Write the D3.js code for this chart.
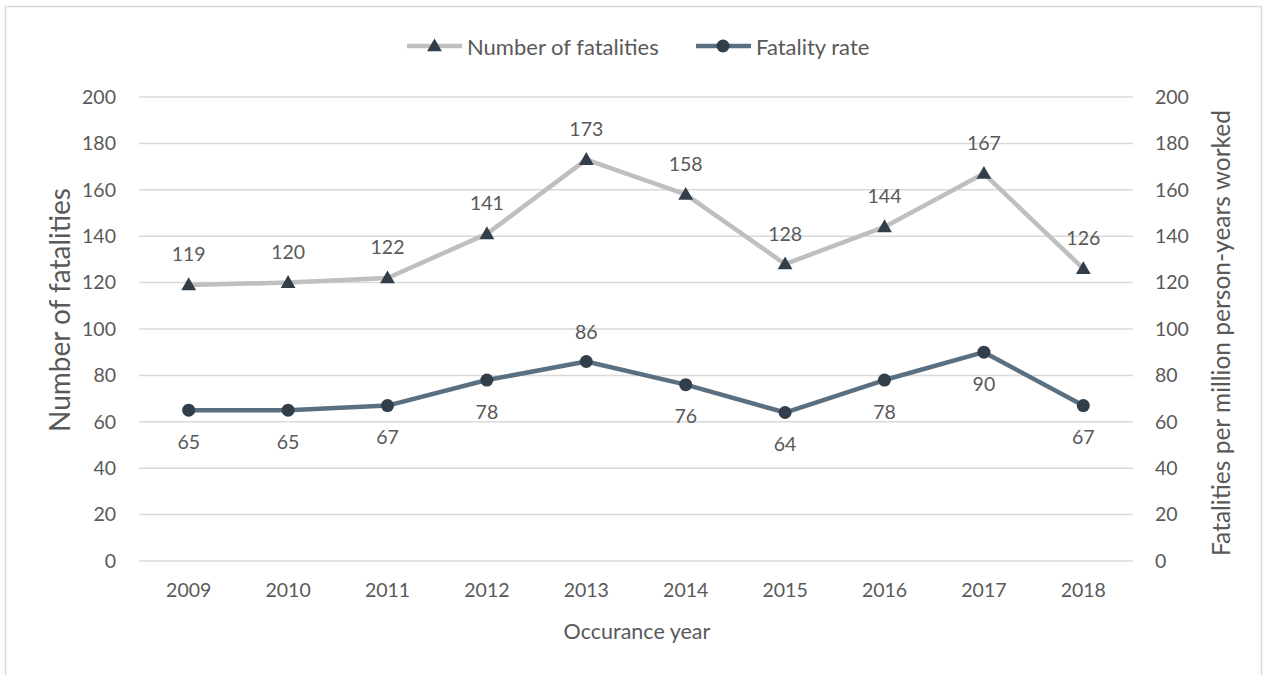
<!DOCTYPE html>
<html>
<head>
<meta charset="utf-8">
<script src="https://cdn.jsdelivr.net/npm/d3@7"></script>
<style>
  html, body { margin: 0; padding: 0; background: #ffffff; }
  svg { display: block; }
  text { font-family: Lato, "Open Sans", sans-serif; fill: #595959; }
</style>
</head>
<body>
<svg id="chart" width="1265" height="675"></svg>
<script>
// Occurrence years
const years = ["2009", "2010", "2011", "2012", "2013", "2014", "2015", "2016", "2017", "2018"];
// Number of fatalities per year
const fatalities = [119, 120, 122, 141, 173, 158, 128, 144, 167, 126];
// Fatalities per million person-years worked
const fatalityRate = [65, 65, 67, 78, 86, 76, 64, 78, 90, 67];
// Where each rate label sits relative to its point
const rateLabelPos = ["below", "below", "below", "below", "above", "below", "below", "below", "below", "below"];
// Shared tick values for both vertical axes
const yTicks = [0, 20, 40, 60, 80, 100, 120, 140, 160, 180, 200];

const svg = d3.select("#chart");
const plot = { left: 139, right: 1133, top: 97, bottom: 561 };

// Outer chart frame
svg.append("rect")
  .attr("x", 5.5).attr("y", 6.5)
  .attr("width", 1256).attr("height", 700)
  .attr("fill", "none").attr("stroke", "#d9d9d9").attr("stroke-width", 1.5);

const x = d3.scaleBand().domain(years).range([plot.left, plot.right]);
const yLeft = d3.scaleLinear().domain([0, 200]).range([plot.bottom, plot.top]);
const yRight = d3.scaleLinear().domain([0, 200]).range([plot.bottom, plot.top]);
const cx = d => x(d) + x.bandwidth() / 2;

// Horizontal gridlines
svg.append("g")
  .selectAll("line").data(yTicks).join("line")
  .attr("x1", plot.left).attr("x2", plot.right)
  .attr("y1", d => yLeft(d)).attr("y2", d => yLeft(d))
  .attr("stroke", "#d9d9d9").attr("stroke-width", 1.5);

function styleAxis(g) {
  g.select(".domain").remove();
  g.selectAll("text").style("font-size", "19.5px").attr("fill", "#595959")
    .style("font-family", "Lato, sans-serif");
}

// Left axis
svg.append("g")
  .attr("transform", `translate(${plot.left - 23},0)`)
  .call(d3.axisLeft(yLeft).tickValues(yTicks).tickSize(0).tickPadding(0))
  .call(styleAxis);

// Right axis
svg.append("g")
  .attr("transform", `translate(${plot.right + 22},0)`)
  .call(d3.axisRight(yRight).tickValues(yTicks).tickSize(0).tickPadding(0))
  .call(styleAxis);

// Bottom axis
svg.append("g")
  .attr("transform", `translate(0,${plot.bottom + 22})`)
  .call(d3.axisBottom(x).tickSize(0).tickPadding(0))
  .call(styleAxis);

// Axis titles
svg.append("text")
  .attr("transform", `translate(59,${(plot.top + plot.bottom) / 2 - 19}) rotate(-90)`)
  .attr("text-anchor", "middle").attr("dominant-baseline", "central")
  .style("font-size", "28px")
  .text("Number of fatalities");

svg.append("text")
  .attr("transform", `translate(1220,${(plot.top + plot.bottom) / 2 + 4}) rotate(-90)`)
  .attr("text-anchor", "middle").attr("dominant-baseline", "central")
  .style("font-size", "24.5px")
  .text("Fatalities per million person-years worked");

svg.append("text")
  .attr("x", 637).attr("y", 631)
  .attr("text-anchor", "middle").attr("dominant-baseline", "central")
  .style("font-size", "21.5px")
  .text("Occurance year");

// Lines
const lineFat = d3.line().x((d, i) => cx(years[i])).y(d => yLeft(d));
const lineRate = d3.line().x((d, i) => cx(years[i])).y(d => yRight(d));

svg.append("path").datum(fatalities)
  .attr("d", lineFat).attr("fill", "none")
  .attr("stroke", "#bfbfbf").attr("stroke-width", 4.5).attr("stroke-linejoin", "round");

svg.append("path").datum(fatalityRate)
  .attr("d", lineRate).attr("fill", "none")
  .attr("stroke", "#5a6f80").attr("stroke-width", 4.5).attr("stroke-linejoin", "round");

const markerColor = "#323f4a";
const tri = d3.symbol().type(d3.symbolTriangle).size(95);

// Triangle markers for fatalities
svg.append("g").selectAll("path").data(fatalities).join("path")
  .attr("d", tri)
  .attr("transform", (d, i) => `translate(${cx(years[i])},${yLeft(d) + 1})`)
  .attr("fill", markerColor);

// Circle markers for rate
svg.append("g").selectAll("circle").data(fatalityRate).join("circle")
  .attr("cx", (d, i) => cx(years[i])).attr("cy", d => yRight(d))
  .attr("r", 6.5).attr("fill", markerColor);

// Data labels
svg.append("g").selectAll("text").data(fatalities).join("text")
  .attr("x", (d, i) => cx(years[i])).attr("y", d => yLeft(d) - 31)
  .attr("text-anchor", "middle").attr("dominant-baseline", "central")
  .style("font-size", "19.5px").attr("fill", "#404040")
  .text(d => d);

svg.append("g").selectAll("text").data(fatalityRate).join("text")
  .attr("x", (d, i) => cx(years[i]))
  .attr("y", (d, i) => yRight(d) + (rateLabelPos[i] === "above" ? -30 : 31))
  .attr("text-anchor", "middle").attr("dominant-baseline", "central")
  .style("font-size", "19.5px").attr("fill", "#404040")
  .text(d => d);

// Legend
const legend = svg.append("g");
const ly = 46;
legend.append("line").attr("x1", 407).attr("x2", 462).attr("y1", ly).attr("y2", ly)
  .attr("stroke", "#bfbfbf").attr("stroke-width", 4.5);
legend.append("path").attr("d", tri).attr("transform", `translate(434.5,${ly + 1})`).attr("fill", markerColor);
legend.append("text").attr("x", 467).attr("y", ly).attr("dominant-baseline", "central")
  .style("font-size", "22px").text("Number of fatalities");

legend.append("line").attr("x1", 696).attr("x2", 751).attr("y1", ly).attr("y2", ly)
  .attr("stroke", "#5a6f80").attr("stroke-width", 4.5);
legend.append("circle").attr("cx", 723).attr("cy", ly).attr("r", 6.5).attr("fill", markerColor);
legend.append("text").attr("x", 756).attr("y", ly).attr("dominant-baseline", "central")
  .style("font-size", "22px").text("Fatality rate");
</script>
</body>
</html>
